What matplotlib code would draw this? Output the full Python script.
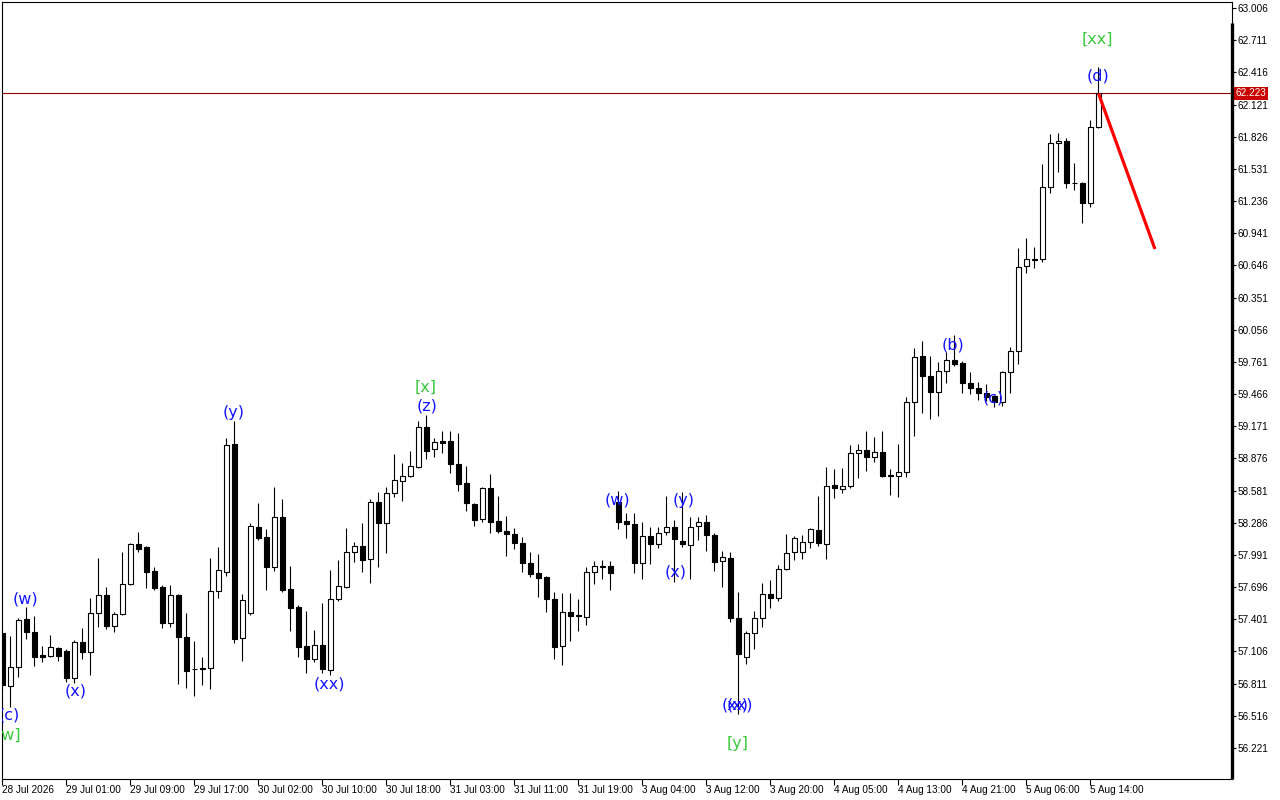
import matplotlib
matplotlib.use("Agg")
import matplotlib.pyplot as plt
import matplotlib.transforms as mtrans
import numpy as np

# hourly OHLC
opens = [57.275, 56.789, 56.963, 57.403, 57.285, 57.073, 57.064, 57.138, 57.110, 56.863,
         57.193, 57.101, 57.458, 57.624, 57.339, 57.449, 57.724, 58.091, 58.064, 57.843,
         57.697, 57.367, 57.624, 57.239, 56.950, 56.950, 56.954, 57.660, 57.834, 59.008,
         57.229, 57.458, 58.247, 58.155, 57.880, 58.339, 57.679, 57.514, 57.156, 57.036,
         57.165, 56.936, 57.587, 57.697, 58.018, 58.073, 57.953, 58.477, 58.284, 58.559,
         58.669, 58.715, 58.797, 59.164, 58.962, 59.036, 59.036, 58.825, 58.650, 58.458,
         58.320, 58.605, 58.302, 58.210, 58.183, 58.100, 57.917, 57.825, 57.788, 57.587,
         57.156, 57.468, 57.431, 57.422, 57.834, 57.880, 57.889, 58.477, 58.302, 58.274,
         57.917, 58.164, 58.091, 58.201, 58.247, 58.119, 58.082, 58.256, 58.293, 58.173,
         57.935, 57.962, 57.413, 57.055, 57.275, 57.413, 57.633, 57.596, 57.862, 58.018,
         58.018, 58.110, 58.219, 58.091, 58.632, 58.595, 58.623, 58.925, 58.953, 58.889,
         58.935, 58.720, 58.715, 58.751, 59.393, 59.815, 59.632, 59.485, 59.677, 59.778,
         59.751, 59.567, 59.521, 59.476, 59.448, 59.393, 59.668, 59.861, 60.640, 60.699,
         60.704, 61.364, 61.768, 61.786, 61.406, 61.401, 61.218, 61.915]
highs = [57.303, 57.248, 57.413, 57.514, 57.431, 57.156, 57.257, 57.147, 57.128, 57.211,
         57.321, 57.596, 57.962, 57.697, 57.468, 58.018, 58.100, 58.201, 58.073, 57.880,
         57.715, 57.715, 57.633, 57.458, 57.202, 57.055, 57.962, 58.064, 59.063, 59.219,
         57.633, 58.284, 58.467, 58.228, 58.614, 58.504, 57.889, 57.532, 57.477, 57.303,
         57.550, 57.853, 57.944, 58.238, 58.110, 58.284, 58.504, 58.568, 58.614, 58.916,
         58.834, 58.944, 59.219, 59.274, 59.063, 59.127, 59.127, 59.109, 58.806, 58.467,
         58.614, 58.733, 58.531, 58.348, 58.238, 58.155, 58.018, 57.999, 57.798, 57.651,
         57.642, 57.642, 57.587, 57.880, 57.935, 57.944, 57.935, 58.577, 58.375, 58.375,
         58.293, 58.247, 58.247, 58.531, 58.311, 58.568, 58.339, 58.339, 58.357, 58.192,
         58.027, 58.018, 57.651, 57.294, 57.477, 57.734, 57.761, 57.898, 58.183, 58.164,
         58.173, 58.238, 58.531, 58.797, 58.779, 58.788, 58.999, 59.008, 59.127, 59.072,
         59.127, 58.779, 59.008, 59.439, 59.888, 59.953, 59.815, 59.760, 59.852, 60.007,
         59.769, 59.668, 59.577, 59.558, 59.457, 59.677, 59.898, 60.805, 60.897, 60.814,
         61.575, 61.850, 61.860, 61.814, 61.584, 61.410, 61.979, 62.465]
lows = [56.752, 56.597, 56.872, 57.220, 56.972, 57.009, 57.055, 57.018, 56.826, 56.817,
        57.036, 56.890, 57.330, 57.312, 57.285, 57.440, 57.715, 58.018, 57.688, 57.669,
        57.321, 57.330, 56.807, 56.771, 56.697, 56.798, 56.761, 57.596, 57.798, 57.184,
        57.018, 57.440, 58.128, 57.669, 57.843, 57.651, 57.294, 57.055, 56.908, 57.009,
        56.908, 56.890, 57.569, 57.688, 57.926, 57.834, 57.734, 57.880, 58.009, 58.522,
        58.486, 58.706, 58.788, 58.870, 58.889, 58.925, 58.742, 58.577, 58.394, 58.256,
        58.293, 58.192, 58.192, 57.981, 58.045, 57.834, 57.788, 57.605, 57.468, 57.036,
        56.981, 57.202, 57.294, 57.349, 57.724, 57.770, 57.669, 58.228, 58.146, 57.825,
        57.770, 57.907, 58.054, 58.173, 57.743, 58.064, 57.770, 58.128, 58.027, 57.843,
        57.697, 57.376, 56.532, 56.990, 57.128, 57.330, 57.505, 57.569, 57.853, 57.944,
        57.953, 58.054, 58.073, 57.953, 58.513, 58.559, 58.605, 58.697, 58.761, 58.843,
        58.706, 58.540, 58.522, 58.706, 59.081, 59.292, 59.237, 59.265, 59.567, 59.723,
        59.476, 59.466, 59.411, 59.402, 59.347, 59.356, 59.476, 59.741, 60.576, 60.622,
        60.677, 61.309, 61.502, 61.355, 61.337, 61.034, 61.181, 61.910]
closes = [56.798, 56.963, 57.394, 57.285, 57.055, 57.059, 57.147, 57.064, 56.863, 57.193,
          57.101, 57.458, 57.624, 57.339, 57.449, 57.724, 58.091, 58.045, 57.834, 57.688,
          57.367, 57.624, 57.239, 56.927, 56.941, 56.959, 57.660, 57.853, 58.999, 57.220,
          57.578, 58.256, 58.146, 57.880, 58.339, 57.669, 57.505, 57.147, 57.036, 57.165,
          56.945, 57.587, 57.706, 58.018, 58.073, 57.944, 58.477, 58.284, 58.559, 58.678,
          58.715, 58.806, 59.164, 58.944, 59.026, 59.017, 58.825, 58.641, 58.467, 58.311,
          58.605, 58.293, 58.210, 58.183, 58.100, 57.917, 57.816, 57.779, 57.587, 57.147,
          57.468, 57.431, 57.440, 57.834, 57.889, 57.889, 57.825, 58.293, 58.274, 57.917,
          58.164, 58.091, 58.192, 58.247, 58.137, 58.091, 58.247, 58.293, 58.173, 57.926,
          57.972, 57.413, 57.082, 57.275, 57.413, 57.633, 57.596, 57.862, 58.009, 58.146,
          58.110, 58.228, 58.100, 58.623, 58.605, 58.623, 58.925, 58.953, 58.889, 58.935,
          58.715, 58.711, 58.751, 59.393, 59.806, 59.632, 59.485, 59.677, 59.778, 59.741,
          59.567, 59.521, 59.476, 59.439, 59.393, 59.668, 59.861, 60.631, 60.704, 60.704,
          61.364, 61.768, 61.786, 61.401, 61.397, 61.218, 61.915, 62.223]

time_labels = ["28 Jul 2026", "29 Jul 01:00", "29 Jul 09:00", "29 Jul 17:00", "30 Jul 02:00",
               "30 Jul 10:00", "30 Jul 18:00", "31 Jul 03:00", "31 Jul 11:00", "31 Jul 19:00",
               "3 Aug 04:00", "3 Aug 12:00", "3 Aug 20:00", "4 Aug 05:00", "4 Aug 13:00",
               "4 Aug 21:00", "5 Aug 06:00", "5 Aug 14:00"]
price_ticks = [63.006, 62.711, 62.416, 62.121, 61.826, 61.531, 61.236, 60.941, 60.646,
               60.351, 60.056, 59.761, 59.466, 59.171, 58.876, 58.581, 58.286, 57.991,
               57.696, 57.401, 57.106, 56.811, 56.516, 56.221]
last_price = 62.223

# wave labels: text, bar index, price, colour kind
wave_labels = [
    ("(w)", 2.9, 57.587, "b"), ("(c)", 0.8, 56.523, "b"), ("[w]", 0.8, 56.340, "g"),
    ("(x)", 9.1, 56.743, "b"), ("(y)", 28.9, 59.301, "b"), ("(xx)", 40.9, 56.807, "b"),
    ("[x]", 52.9, 59.531, "g"), ("(z)", 53.1, 59.356, "b"), ("(w)", 76.9, 58.495, "b"),
    ("(y)", 85.1, 58.495, "b"), ("(x)", 84.1, 57.834, "b"), ("(xx)", 91.9, 56.615, "b"),
    ("(x)", 91.9, 56.615, "b"), ("[y]", 91.9, 56.267, "g"), ("(b)", 118.8, 59.916, "b"),
    ("(c)", 123.8, 59.430, "b"), ("(d)", 136.9, 62.382, "b"), ("[xx]", 136.9, 62.722, "g"),
]
forecast_x = [137, 144.06]
forecast_y = [62.223, 60.796]

o = np.array(opens)
h = np.array(highs)
l = np.array(lows)
c = np.array(closes)
x = np.arange(len(o))

fig = plt.figure(figsize=(12.8, 8), dpi=100)
ax = fig.add_axes([2 / 1280, 21 / 800, 1230 / 1280, 777 / 800])

ax.axhline(last_price, color="#900000", lw=0.8, zorder=1)

ax.vlines(x, l, h, color="black", lw=0.8, zorder=2)
bottom = np.minimum(o, c)
height = np.abs(c - o)
face = np.where(c >= o, "white", "black")
ax.bar(x, height, width=0.6, bottom=bottom, color=face, edgecolor="black",
       linewidth=0.8, zorder=3)

ax.plot(forecast_x, forecast_y, color="red", lw=2.3, zorder=5, solid_capstyle="butt")

cols = {"b": "#1414ff", "g": "#3cc83c"}
for txt, xi, yi, k in wave_labels:
    ax.text(xi, yi, txt, color=cols[k], fontsize=11.5, ha="center", va="center",
            zorder=6, clip_on=True)

ax.set_xlim(-0.0625, 153.69)
ax.set_ylim(55.937, 63.061)

ax.yaxis.tick_right()
ax.set_yticks(price_ticks)
ax.set_yticklabels(["%.3f" % v for v in price_ticks], fontfamily="Liberation Sans")
ax.tick_params(axis="y", direction="out", length=3, width=0.8, pad=1, labelsize=7.2)

ax.set_xticks(np.arange(0, 8 * len(time_labels), 8))
ax.set_xticklabels(time_labels, ha="left", fontfamily="Liberation Sans")
ax.tick_params(axis="x", direction="out", length=4, width=0.8, pad=0.5, labelsize=7.2)

for s in ax.spines.values():
    s.set_linewidth(0.8)
    s.set_color("black")
ax.plot([1, 1], [0, (779 - 23) / 777], transform=ax.transAxes, color="black",
        lw=2.4, clip_on=False, solid_capstyle="butt", zorder=7)

tag = mtrans.blended_transform_factory(ax.transAxes, ax.transData)
ax.annotate("%.3f" % last_price, xy=(1, last_price), xycoords=tag, xytext=(2.5, 0),
            textcoords="offset points", ha="left", va="center", color="white",
            fontsize=7.2, fontfamily="Liberation Sans",
            bbox=dict(facecolor="#c80000", edgecolor="none", pad=1.2), zorder=8)

fig.savefig("out.png", dpi=100)
